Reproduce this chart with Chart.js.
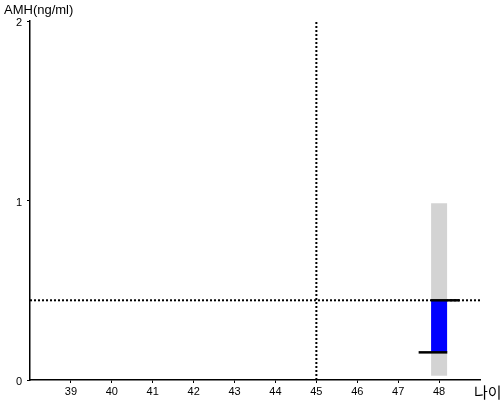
<!DOCTYPE html>
<html>
<head>
<meta charset="utf-8">
<script src="https://cdn.jsdelivr.net/npm/chart.js@4"></script>
<style>
  html, body { margin: 0; padding: 0; background: #fff; }
  #wrap { width: 500px; height: 400px; }
</style>
</head>
<body>
<div id="wrap"><canvas id="chart" width="500" height="400"></canvas></div>
<script>
// data
const ageTicks = [39, 40, 41, 42, 43, 44, 45, 46, 47, 48];
const amhTicks = [0, 1, 2];
const ageRange = [38, 49];
const amhRange = [0, 2];

const patientAge = 48;
const normalRange = [0.024, 0.985];   // grey band
const patientRange = [0.154, 0.444];  // blue band
const lowMarkAges = [47.5, 48.2];     // black mark at low end
const highMarkAges = [47.8, 48.5];    // black mark at high end

const refAge = 45;      // vertical dotted line
const refAmh = 0.444;   // horizontal dotted line

const yTitle = 'AMH(ng/ml)';
const xTitle = '나이';

function seg(x1, y1, x2, y2) {
  return [{ x: x1, y: y1 }, { x: x2, y: y2 }];
}

const baseLine = { pointRadius: 0, fill: false, tension: 0, borderCapStyle: 'butt' };

// draw axis titles as text
const titlesPlugin = {
  id: 'titles',
  afterDraw(chart) {
    const ctx = chart.ctx;
    ctx.save();
    ctx.fillStyle = '#000';
    ctx.textBaseline = 'middle';
    ctx.textAlign = 'left';
    ctx.font = '13px "Liberation Sans", Arial, sans-serif';
    ctx.fillText(yTitle, 4, 10);
    ctx.font = '15px "Noto Sans CJK KR", sans-serif';
    ctx.fillText(xTitle, 474, 392);
    ctx.restore();
  }
};

// order: higher number is drawn first (below)
new Chart(document.getElementById('chart').getContext('2d'), {
  type: 'line',
  data: {
    datasets: [
      { ...baseLine, order: 6, data: seg(refAge, amhRange[0], refAge, amhRange[1]), borderColor: '#000', borderWidth: 2, borderDash: [2, 2] },
      { ...baseLine, order: 5, data: seg(ageRange[0], refAmh, ageRange[1], refAmh), borderColor: '#000', borderWidth: 2, borderDash: [2, 2] },
      { ...baseLine, order: 4, data: seg(patientAge, normalRange[0], patientAge, normalRange[1]), borderColor: '#d3d3d3', borderWidth: 16 },
      { ...baseLine, order: 3, data: seg(patientAge, patientRange[0], patientAge, patientRange[1]), borderColor: '#0000ff', borderWidth: 16 },
      { ...baseLine, order: 2, data: seg(lowMarkAges[0], patientRange[0], lowMarkAges[1], patientRange[0]), borderColor: '#000', borderWidth: 2.5 },
      { ...baseLine, order: 1, data: seg(highMarkAges[0], patientRange[1], highMarkAges[1], patientRange[1]), borderColor: '#000', borderWidth: 2.5 }
    ]
  },
  options: {
    responsive: false,
    animation: false,
    layout: { padding: { top: 21, right: 20, left: 0, bottom: 0 } },
    plugins: { legend: { display: false }, tooltip: { enabled: false } },
    scales: {
      x: {
        type: 'linear',
        min: ageRange[0],
        max: ageRange[1],
        afterBuildTicks: (s) => { s.ticks = ageTicks.map(v => ({ value: v })); },
        afterFit: (s) => { s.height = 20; },
        grid: { drawOnChartArea: false, drawTicks: true, tickLength: 3, color: '#000' },
        border: { display: true, color: '#000', width: 1.5 },
        ticks: { color: '#000', padding: 2, maxRotation: 0, font: { size: 11, family: '"Liberation Sans", Arial, sans-serif' } }
      },
      y: {
        type: 'linear',
        min: amhRange[0],
        max: amhRange[1],
        afterBuildTicks: (s) => { s.ticks = amhTicks.map(v => ({ value: v })); },
        afterFit: (s) => { s.width = 30; },
        grid: { drawOnChartArea: false, drawTicks: true, tickLength: 3, color: '#000' },
        border: { display: true, color: '#000', width: 1.5 },
        ticks: { color: '#000', padding: 5, labelOffset: 2, font: { size: 11, family: '"Liberation Sans", Arial, sans-serif' } }
      }
    }
  },
  plugins: [titlesPlugin]
});
</script>
</body>
</html>
